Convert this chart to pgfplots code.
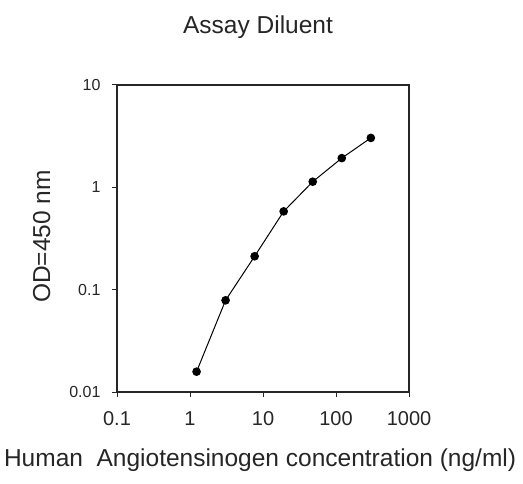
\documentclass[border=0pt]{standalone}
\usepackage{pgfplots}
\pgfplotsset{compat=1.18}
\usepackage{fontspec}
\setmainfont{Liberation Sans}
\begin{document}
\begin{tikzpicture}[x=1bp,y=1bp]
\useasboundingbox (0,0) rectangle (523,484);
\begin{axis}[
  at={(117bp,92bp)}, anchor=south west,
  scale only axis, width=292bp, height=307bp,
  xmode=log, ymode=log,
  xmin=0.1, xmax=1000, ymin=0.01, ymax=10,
  xtick={0.1,1,10,100,1000}, xticklabels={0.1,1,10,100,1000},
  ytick={0.01,0.1,1,10}, yticklabels={0.01,0.1,1,10},
  minor tick length=0pt,
  tick align=outside, tick pos=left,
  major tick length=5bp,
  axis line style={line width=1.2bp, black!85},
  every tick/.style={line width=1bp, black!85},
  /pgf/number format/assume math mode=true,
  xticklabel style={font=\fontsize{20bp}{22bp}\selectfont, text=black!85, yshift=-11bp},
  yticklabel style={font=\fontsize{16bp}{18bp}\selectfont, text=black!85, xshift=-8bp},
  every axis title shift=0pt,
  title={Assay Diluent},
  title style={font=\fontsize{24.5bp}{27bp}\selectfont, text=black!85, at={(axis description cs:0.483,1.169)}, anchor=base},
  xlabel={Human\ \ Angiotensinogen concentration (ng/ml)},
  xlabel style={font=\fontsize{24.5bp}{27bp}\selectfont, text=black!85, at={(axis description cs:0.49,-0.244)}, anchor=base},
  ylabel={OD=450 nm},
  ylabel style={font=\fontsize{24.5bp}{27bp}\selectfont, text=black!85, at={(axis description cs:-0.229,0.5065)}, anchor=base, rotate=0},
  clip=false,
]
\addplot[black, line width=1bp, mark=*, mark size=3.8bp, mark options={fill=black}] coordinates {
(1.23,0.0158) (3.07,0.0787) (7.68,0.212) (19.2,0.582) (48,1.135) (120,1.93) (300,3.04)
};
\end{axis}
\end{tikzpicture}
\end{document}
